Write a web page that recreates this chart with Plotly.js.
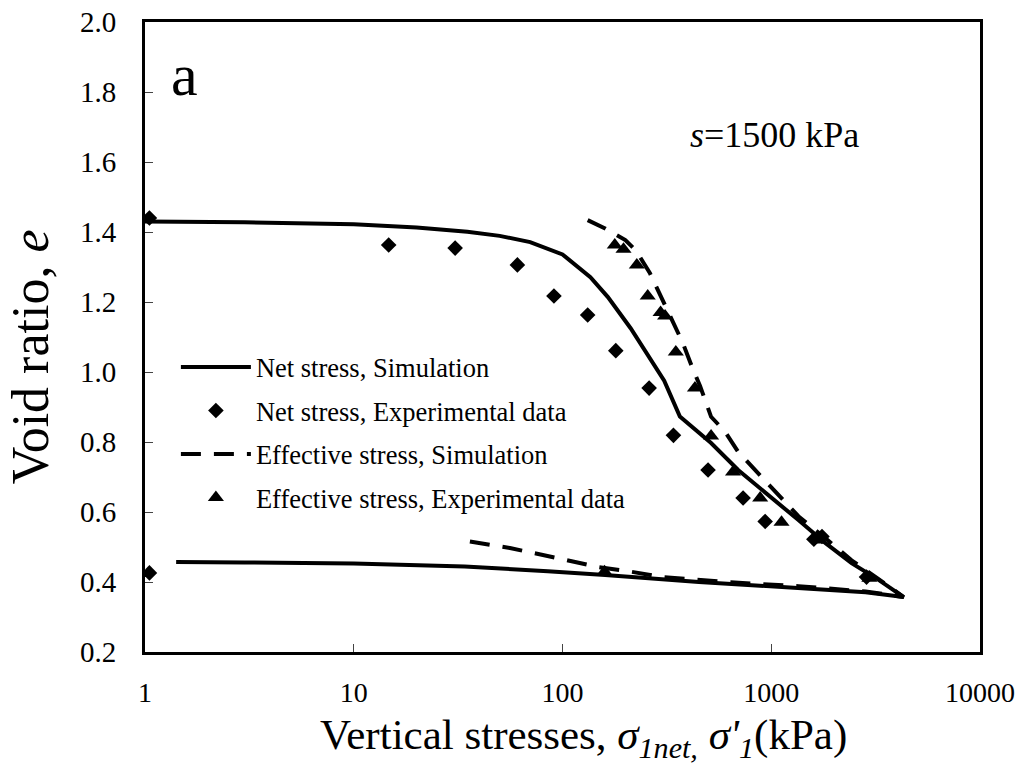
<!DOCTYPE html>
<html>
<head>
<meta charset="utf-8">
<script src="https://cdn.plot.ly/plotly-3.0.1.min.js"></script>
<style>html,body{margin:0;padding:0;background:#fff;}#chart{width:1035px;height:764px;}</style>
</head>
<body>
<div id="chart"></div>
<script>
// Net stress, simulation (loading then unloading path)
const netSimX = [1, 3, 10, 20, 35, 50, 70, 100, 136, 165, 212, 256, 307, 365, 515, 694, 1000, 1349, 1820, 2425, 3268, 4311,
                 2830, 1350, 450, 160, 85, 34, 10, 3, 1.41];
const netSimE = [1.430, 1.428, 1.422, 1.413, 1.401, 1.389, 1.371, 1.336, 1.271, 1.214, 1.125, 1.05, 0.975, 0.873, 0.797, 0.720, 0.643, 0.577, 0.511, 0.454, 0.406, 0.357,
                 0.371, 0.383, 0.400, 0.420, 0.431, 0.444, 0.453, 0.456, 0.457];

// Net stress, experimental data
const netExpX = [1.05, 14.7, 30.6, 60.8, 91, 132, 180, 260, 340, 498, 733, 935, 1600, 1750, 2860, 1.05];
const netExpE = [1.44, 1.363, 1.354, 1.306, 1.217, 1.163, 1.061, 0.954, 0.819, 0.72, 0.64, 0.573, 0.522, 0.53, 0.414, 0.426];

// Effective stress, simulation (loading then unloading path)
const effSimX = [132, 160, 200, 225, 262, 313, 377, 420, 456, 515, 600, 694, 935, 1349, 1820, 2425, 3268, 4311,
                 2830, 1350, 640, 300, 210, 147, 95, 56, 34];
const effSimE = [1.434, 1.41, 1.377, 1.347, 1.283, 1.183, 1.083, 1.01, 0.96, 0.872, 0.83, 0.772, 0.688, 0.588, 0.525, 0.462, 0.408, 0.357,
                 0.373, 0.388, 0.399, 0.414, 0.430, 0.443, 0.468, 0.497, 0.518];

// Effective stress, experimental data
const effExpX = [178, 196, 227, 256, 295, 310, 349, 431, 515, 656, 885, 1120, 1700, 2950, 159];
const effExpE = [1.363, 1.351, 1.306, 1.217, 1.17, 1.16, 1.057, 0.954, 0.817, 0.714, 0.64, 0.571, 0.52, 0.411, 0.429];

const xTickVals = [1, 10, 100, 1000, 10000];
const xTickText = ['1', '10', '100', '1000', '10000'];

const xTitle = 'Vertical stresses, <i>σ<sub>1net,</sub> σ\'<sub>1</sub></i>(kPa)';
const yTitle = 'Void ratio, <i>e</i>';

const FONT = 'Liberation Serif, Times New Roman, serif';

const traces = [
  {x: netSimX, y: netSimE, type: 'scatter', mode: 'lines', name: 'Net stress, Simulation',
   legendgroup: 'g1', line: {color: '#000', width: 4}},
  {x: netExpX, y: netExpE, type: 'scatter', mode: 'markers', name: 'Net stress, Experimental data',
   legendgroup: 'g2', marker: {symbol: 'diamond', size: 12, color: '#000'}},
  {x: effSimX, y: effSimE, type: 'scatter', mode: 'lines', name: 'Effective stress, Simulation',
   legendgroup: 'g3', line: {color: '#000', width: 4, dash: '20px,13px'}},
  {x: effExpX, y: effExpE, type: 'scatter', mode: 'markers', name: 'Effective stress, Experimental data',
   legendgroup: 'g4', marker: {symbol: 'triangle-up', size: 14, color: '#000'}}
];

const layout = {
  width: 1035, height: 764,
  margin: {l: 145, r: 55, t: 22, b: 112},
  paper_bgcolor: '#fff', plot_bgcolor: '#fff',
  font: {family: FONT, color: '#000'},
  showlegend: true,
  legend: {x: 0.037, y: 0.49, xanchor: 'left', yanchor: 'top', bgcolor: 'rgba(0,0,0,0)',
           font: {family: FONT, size: 26.5, color: '#000'}, itemwidth: 70,
           traceorder: 'grouped', tracegroupgap: 6},
  xaxis: {type: 'log', range: [0, 4], tickvals: xTickVals, ticktext: xTickText,
          ticks: 'inside', ticklen: 8, tickwidth: 1, tickcolor: '#444',
          showline: true, linewidth: 3, linecolor: '#000', mirror: true,
          showgrid: false, zeroline: false, ticklabelstandoff: 13,
          tickfont: {family: FONT, size: 28, color: '#000'}},
  yaxis: {range: [0.2, 2.0], dtick: 0.2, tick0: 0.2, tickformat: '.1f',
          ticks: 'inside', ticklen: 8, tickwidth: 1, tickcolor: '#444',
          showline: true, linewidth: 3, linecolor: '#000', mirror: true,
          showgrid: false, zeroline: false, ticklabelstandoff: 20,
          tickfont: {family: FONT, size: 29, color: '#000'}},
  annotations: [
    {text: xTitle, xref: 'paper', yref: 'paper', x: 0.5246, y: -0.1365, xanchor: 'center', yanchor: 'middle',
     showarrow: false, font: {family: FONT, size: 43, color: '#000'}},
    {text: yTitle, xref: 'paper', yref: 'paper', x: -0.1377, y: 0.468, xanchor: 'center', yanchor: 'middle',
     textangle: -90, showarrow: false, font: {family: FONT, size: 52, color: '#000'}},
    {text: 'a', xref: 'paper', yref: 'paper', x: 0.047, y: 0.916, xanchor: 'center', yanchor: 'middle',
     showarrow: false, font: {family: FONT, size: 60, color: '#000'}},
    {text: '<i>s</i>=1500 kPa', xref: 'paper', yref: 'paper', x: 0.754, y: 0.821, xanchor: 'center', yanchor: 'middle',
     showarrow: false, font: {family: FONT, size: 36, color: '#000'}}
  ]
};

Plotly.newPlot('chart', traces, layout, {displayModeBar: false, staticPlot: true});
</script>
</body>
</html>
